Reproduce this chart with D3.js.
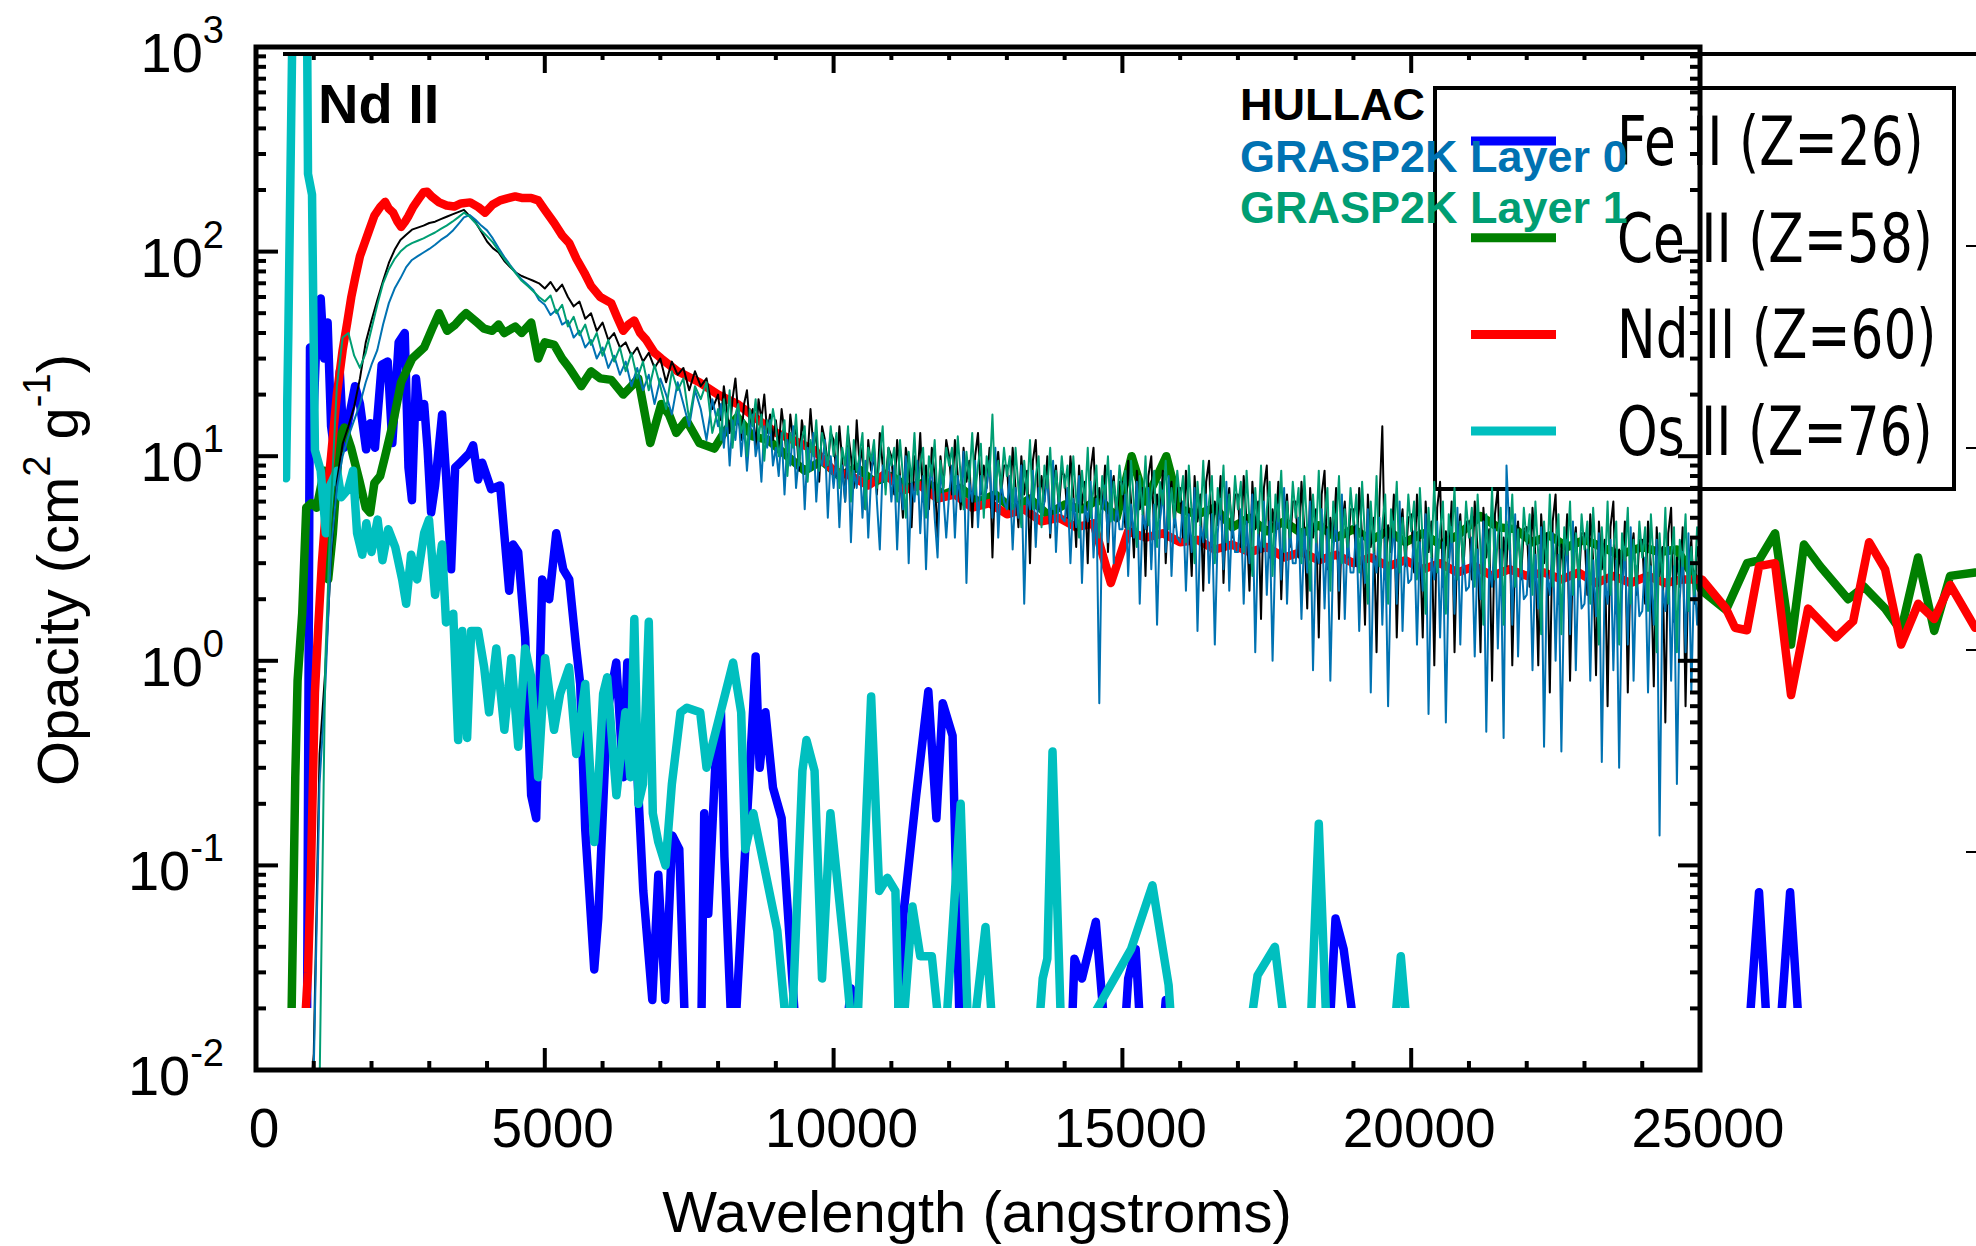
<!DOCTYPE html>
<html>
<head>
<meta charset="utf-8">
<script src="https://cdn.jsdelivr.net/npm/d3@7"></script>
<style>
  body { margin: 0; background: #fff; }
  svg { display: block; }
</style>
</head>
<body>
<svg id="chart" width="1976" height="1246"></svg>
<script>
// thin spectra (HULLAC / GRASP2K):
// part A read every 100 angstroms from 800 to 7900, part B every 50 from 8000 to 25000
const startA = 800, stepA = 100;
const startB = 8000, stepB = 50;

const hullacA = [
  0.005, 0.005, 0.012, 0.35, 0.9, 3.2, 7.5, 11.5, 14, 17.5,
  24, 36, 46, 58, 72, 88, 102, 114, 121, 128,
  131, 134, 138, 140, 144, 148, 152, 156, 160, 149,
  139, 125, 112, 104, 99, 90, 84, 79, 76, 74,
  72, 70, 66, 71, 64, 69, 60, 54, 57, 47,
  50, 41, 45, 37, 40, 34, 36, 31, 34, 29,
  32, 27, 30, 23, 29, 25, 27, 21, 26, 22,
  24, 17
];
const hullacB = [
  20, 15, 22, 17, 13, 19, 24, 16, 12, 18, 21, 14, 17, 11, 19, 15, 20, 13, 16, 12,
  15, 11, 17, 13, 9, 16, 12, 14, 8.5, 15, 12, 10, 17, 11, 13, 7.5, 14, 12, 9, 13,
  12, 8, 14, 9.5, 6, 13, 10, 7, 15, 9, 11, 5.5, 12, 8.5, 10, 6.5, 13, 9, 7.5, 11,
  10, 6.5, 12, 8, 5, 11, 9, 4.5, 10, 7.5, 13, 6, 9, 5.5, 11, 8, 4, 10, 7, 12,
  10, 6.5, 12, 8, 5.5, 11, 7.5, 9.5, 4.5, 10, 13, 6.5, 9, 7, 11, 3.2, 8.5, 10.5, 6.5, 9,
  9, 5.5, 11, 7, 4.5, 10, 6.5, 8.5, 3, 9.5, 12, 5.5, 8, 6, 10, 4, 7.5, 9, 5.5, 8.5,
  8, 5, 10, 6.5, 3.6, 9, 5.8, 7.5, 3, 8.5, 11, 4.8, 7, 5.5, 9, 3.4, 6.5, 8, 4.8, 7.5,
  7.5, 4.5, 9.5, 6, 3.2, 8.5, 5.5, 7, 2.6, 8, 10, 4.2, 6.5, 5, 8.5, 3, 6, 7.5, 4.5, 7,
  7, 4, 8.5, 5.2, 2.6, 8, 4.8, 6.5, 2.2, 7.5, 9.5, 3.6, 6, 4.6, 8, 2.4, 5.5, 7, 4, 6.5,
  6.5, 3.6, 8, 4.8, 2.2, 7.5, 4.4, 6, 1.6, 7, 9, 3.2, 5.5, 4.2, 7.5, 2, 5, 6.5, 3.6, 6,
  6, 3.2, 7.5, 4.4, 1.8, 7, 4, 5.5, 1.3, 6.5, 8.5, 2.8, 5, 3.8, 7, 1.6, 4.6, 6, 3.2, 5.5,
  5.5, 2.9, 7, 4, 1.5, 6.5, 3.6, 5, 1.1, 6, 14, 2.5, 4.6, 3.4, 6.5, 1.3, 4.2, 5.5, 2.9, 5,
  5.2, 2.7, 6.5, 3.8, 1.3, 6, 3.4, 4.8, 0.95, 5.6, 7.5, 2.3, 4.3, 3.2, 6, 1.1, 4, 5.2, 2.7, 4.8,
  4.8, 2.5, 6, 3.5, 1.1, 5.6, 3.2, 4.4, 0.8, 5.2, 7, 2.1, 4, 2.9, 5.6, 0.95, 3.6, 4.8, 2.5, 4.4,
  4.5, 2.3, 5.6, 3.3, 0.95, 5.2, 3, 4.2, 0.7, 4.8, 6.5, 1.9, 3.7, 2.7, 5.2, 0.8, 3.4, 4.5, 2.3, 4.2,
  4.2, 2.1, 5.2, 3.1, 0.85, 4.8, 2.8, 3.9, 0.6, 4.5, 6, 1.7, 3.5, 2.5, 4.8, 0.7, 3.2, 4.2, 2.1, 3.9,
  3.9, 1.9, 4.8, 2.9, 0.75, 4.5, 2.6, 3.6, 0.5, 4.2, 5.6, 1.55, 3.2, 2.3, 4.5, 0.6, 3, 3.9, 1.9, 3.6,
  3
];

const grasp0A = [
  0.005, 0.005, 0.01, 0.25, 0.75, 3.5, 7, 10, 12.5, 15,
  18, 23, 28, 33, 44, 56, 66, 74, 84, 91,
  95, 99, 103, 108, 114, 119, 126, 136, 147, 151,
  143, 134, 127, 116, 104, 94, 86, 79, 73, 69,
  65, 58, 55, 49, 52, 44, 46, 38, 41, 34,
  37, 30, 34, 27, 31, 25, 29, 22, 27, 21,
  25, 18, 24, 20, 16, 23, 18, 14, 21, 17,
  12, 19
];
const grasp0B = [
  14, 18, 11, 16, 9, 15, 12, 17, 10, 14, 8.5, 13, 16, 10, 12, 7.5, 14, 11, 15, 9,
  11, 8, 13, 6.5, 12, 9, 14, 7, 10, 12, 5.5, 11, 8.5, 13, 6, 10, 9, 12, 5, 10,
  7, 10, 4.5, 9, 6, 11, 3.8, 8.5, 7, 10, 5, 9.5, 4, 8, 11, 6, 3.5, 9, 7, 10,
  6, 9, 3.5, 8, 5.5, 10, 3, 7.5, 6, 9.5, 4.2, 8, 2.8, 7, 9, 5, 3.2, 8.5, 6.5, 4,
  6.5, 9, 4, 8, 6, 10.5, 2.4, 7.5, 6, 9.5, 4.5, 8, 5.5, 7, 9.5, 5, 11, 4, 7.5, 6,
  5.5, 8, 3.5, 7, 5, 9, 1.9, 6.5, 5.5, 8.5, 3.6, 7, 4.8, 6, 8, 4.2, 9.5, 3.4, 6.5, 5,
  4.8, 7, 3, 6.2, 4.5, 8, 2.4, 5.8, 4.8, 7.5, 3.2, 6.2, 0.62, 5.2, 7.2, 3.8, 8.5, 3, 6, 4.4,
  4.4, 6.5, 2.6, 5.8, 4, 7.5, 1.9, 5.2, 4.4, 7, 2.8, 5.8, 1.5, 4.8, 6.8, 3.4, 8, 2.6, 5.5, 4,
  3.8, 6, 2.2, 5.2, 3.4, 7, 1.4, 4.6, 3.8, 6.5, 2.4, 5.2, 1.2, 4.2, 6.2, 2.8, 7.5, 2.2, 5, 3.4,
  3.4, 5.5, 1.9, 4.8, 3, 6.5, 1.1, 4.2, 3.4, 6, 2.1, 4.8, 1, 3.8, 5.8, 2.5, 7, 1.9, 4.6, 3,
  3, 5, 1.6, 4.4, 2.7, 6, 0.9, 3.8, 3, 5.5, 1.8, 4.4, 0.8, 3.4, 5.2, 2.2, 6.5, 1.6, 4.2, 2.7,
  2.7, 4.6, 1.4, 4, 2.4, 5.5, 0.7, 3.4, 2.7, 5, 1.5, 4, 0.6, 3, 4.8, 1.9, 6, 1.4, 3.8, 2.4,
  2.5, 4.3, 1.2, 3.8, 2.2, 5.2, 0.55, 3.2, 2.5, 4.8, 1.3, 3.8, 0.5, 2.8, 4.5, 1.7, 5.6, 1.2, 3.6, 2.2,
  2.3, 4, 1.05, 3.5, 2, 4.8, 0.45, 2.9, 2.3, 4.4, 1.15, 3.5, 0.42, 9, 4.2, 1.5, 5.2, 1.05, 3.3, 2,
  2.1, 3.7, 0.9, 3.3, 1.8, 4.5, 0.38, 2.7, 2.1, 4.2, 1, 3.3, 0.36, 2.4, 3.9, 1.35, 4.8, 0.9, 3.1, 1.8,
  1.9, 3.5, 0.8, 3.1, 1.65, 4.2, 0.32, 2.5, 1.9, 3.9, 0.9, 3.1, 0.3, 2.2, 3.6, 1.2, 4.5, 0.8, 2.9, 1.65,
  1.75, 3.2, 0.7, 2.9, 1.5, 3.9, 0.14, 2.3, 1.75, 3.6, 0.8, 2.9, 0.25, 2, 3.4, 1.1, 4.2, 0.7, 2.7, 1.5,
  2.4
];

const grasp1A = [
  0.004, 0.004, 0.005, 0.008, 1, 6, 22, 38, 40, 31,
  27, 32, 42, 55, 70, 82, 92, 100, 106, 110,
  113, 116, 120, 124, 129, 134, 140, 147, 155, 148,
  138, 127, 119, 111, 101, 92, 85, 78, 72, 68,
  64, 60, 57, 61, 50, 55, 43, 48, 39, 44,
  35, 40, 31, 37, 29, 34, 26, 32, 24, 29,
  21, 28, 22, 17, 26, 21, 24, 15, 22, 19,
  23, 13
];
const grasp1B = [
  17, 12, 19, 14, 21, 11, 16, 18, 13, 15, 10, 17, 14, 19, 12, 16, 9.5, 15, 13, 17,
  14, 10, 12, 15, 8, 13, 11, 16, 9, 12, 14, 7.5, 12, 10, 15, 8.5, 13, 11, 9, 14,
  10, 13, 7, 11, 9, 14, 6, 12, 8.5, 10, 13, 5.5, 11, 9.5, 12, 7, 10, 14, 6.5, 11,
  9, 11, 6, 12, 8, 5, 10.5, 7.5, 13, 6.5, 9, 11, 5, 10, 8, 12, 6, 9.5, 7, 11,
  9, 11, 6.5, 12.5, 8, 5.5, 10.5, 7.5, 13, 6.5, 9, 11.5, 5, 10, 8, 16, 6.5, 9.5, 7, 11,
  8, 10, 5.5, 11, 7, 4.5, 9.5, 6.5, 12, 5.5, 8, 10, 4.5, 9, 7, 11, 5.5, 8.5, 6, 10,
  7, 9, 4.8, 10, 6.2, 4, 8.5, 5.8, 11, 5, 7, 9, 4, 8, 6.2, 10, 4.8, 7.5, 5.5, 9,
  6.5, 8.5, 4.4, 9.5, 5.8, 3.6, 8, 5.2, 10, 4.6, 6.5, 8.5, 3.6, 7.5, 5.8, 9.5, 4.4, 7, 5, 8.5,
  6, 8, 3.8, 9, 5.2, 3, 7.5, 4.6, 9.5, 4, 6, 8, 3, 7, 5.2, 9, 3.8, 6.5, 4.4, 8,
  5.5, 7.5, 3.4, 8.5, 4.8, 2.6, 7, 4.2, 9, 3.6, 5.5, 7.5, 2.6, 6.5, 4.8, 8.5, 3.4, 6, 4, 7.5,
  5, 7, 3, 8, 4.4, 2.2, 6.5, 3.8, 8.5, 3.2, 5, 7, 2.2, 6, 4.4, 8, 3, 5.5, 3.6, 7,
  4.6, 6.5, 2.7, 7.5, 4, 1.9, 6, 3.4, 8, 2.9, 4.6, 6.5, 1.9, 5.5, 4, 7.5, 2.7, 5, 3.2, 6.5,
  4.3, 6, 2.5, 7, 3.8, 1.7, 5.6, 3.2, 7.5, 2.7, 4.3, 6, 1.7, 5.2, 3.8, 7, 2.5, 4.8, 3, 6,
  4, 5.6, 2.3, 6.5, 3.5, 1.5, 5.2, 2.9, 7, 2.5, 4, 5.6, 1.5, 4.8, 3.5, 6.5, 2.3, 4.4, 2.7, 5.6,
  3.7, 5.2, 2.1, 6, 3.3, 1.35, 4.8, 2.7, 6.5, 2.3, 3.7, 5.2, 1.35, 4.5, 3.3, 6, 2.1, 4.2, 2.5, 5.2,
  3.5, 4.8, 1.9, 5.6, 3.1, 1.2, 4.5, 2.5, 6, 2.1, 3.5, 4.8, 1.2, 4.2, 3.1, 5.6, 1.9, 3.9, 2.3, 4.8,
  3.2, 4.5, 1.75, 5.2, 2.9, 1.1, 4.2, 2.3, 5.6, 1.9, 3.2, 4.5, 1.1, 3.9, 2.9, 5.2, 1.75, 3.6, 2.1, 4.5,
  3.4
];

// thick curves, [wavelength, opacity]
const feII = [
  [880, 0.01], [935, 34], [980, 12], [1050, 40], [1120, 59], [1180, 30], [1240, 45], [1300, 14],
  [1370, 10], [1450, 26], [1520, 11], [1600, 15], [1715, 22], [1800, 18], [1906, 10.8], [1980, 14.5],
  [2060, 11], [2176, 28], [2280, 29], [2360, 11.6], [2470, 36], [2575, 40], [2640, 8.8], [2700, 6.1],
  [2770, 24], [2840, 15.6], [2911, 18], [2971, 10.8], [3032, 5.3], [3101, 7.2], [3222, 16], [3292, 8],
  [3378, 2.8], [3448, 8.8], [3534, 9.3], [3690, 10.3], [3759, 11.3], [3846, 7.7], [3915, 9.3], [4071, 6.9],
  [4227, 7.2], [4383, 2.2], [4452, 3.7], [4539, 3.4], [4660, 1.3], [4764, 0.22], [4851, 0.17], [4955, 2.5],
  [5076, 2.0], [5198, 4.2], [5319, 2.8], [5423, 2.5], [5544, 1.15], [5613, 0.77], [5700, 0.15], [5769, 0.075],
  [5856, 0.031], [5925, 0.055], [6081, 0.56], [6237, 0.98], [6358, 0.27], [6428, 0.98], [6549, 0.56], [6705, 0.075],
  [6861, 0.022], [6965, 0.09], [7086, 0.022], [7207, 0.14], [7328, 0.12], [7450, 0.01], [7700, 0.01], [7760, 0.18],
  [7830, 0.058], [7950, 0.3], [8050, 0.56], [8110, 0.11], [8260, 0.01], [8470, 0.12], [8610, 0.6], [8650, 1.05],
  [8720, 0.3], [8820, 0.56], [8950, 0.24], [9100, 0.17], [9390, 0.01], [10150, 0.01], [10300, 0.025], [10520, 0.01],
  [11070, 0.01], [11210, 0.058], [11430, 0.22], [11640, 0.71], [11780, 0.17], [11890, 0.62], [12060, 0.43], [12200, 0.01],
  [14100, 0.01], [14170, 0.035], [14300, 0.028], [14540, 0.053], [14750, 0.01], [15000, 0.01], [15100, 0.028], [15230, 0.039],
  [15350, 0.01], [15660, 0.01], [15750, 0.022], [15800, 0.01], [18550, 0.01], [18690, 0.055], [18830, 0.039], [19110, 0.01],
  [25800, 0.01], [26022, 0.074], [26200, 0.01], [26340, 0.01], [26560, 0.074], [26760, 0.01], [29800, 0.01]
];

const ceII = [
  [600, 0.01], [640, 0.05], [680, 0.27], [720, 0.8], [800, 1.7], [870, 5.6], [960, 5.9], [1050, 5.6],
  [1180, 8.5], [1250, 2.5], [1330, 4.2], [1450, 12.4], [1530, 13.8], [1646, 11], [1790, 7.6], [1900, 5.6],
  [1975, 5.3], [2050, 7.4], [2150, 8], [2235, 10], [2374, 14.6], [2512, 23], [2703, 30], [2911, 34],
  [3050, 42], [3170, 50], [3309, 41], [3450, 44], [3569, 48], [3638, 50], [3829, 45], [3950, 42],
  [4089, 41], [4200, 44], [4297, 40], [4487, 43], [4600, 40], [4764, 45], [4886, 30], [5000, 36],
  [5163, 35], [5300, 30], [5423, 27], [5631, 22], [5800, 26], [5960, 24], [6150, 23.6], [6358, 20],
  [6500, 22], [6618, 24], [6826, 11.6], [7017, 18], [7150, 16], [7277, 13], [7450, 15], [7675, 11.6],
  [7935, 10.9], [8100, 13], [8333, 15.5], [8600, 12.5], [8870, 12], [9200, 10], [9500, 8.5], [9800, 9.5],
  [10100, 8], [10400, 8.8], [10700, 7.5], [11000, 8], [11300, 7], [11600, 7.5], [11900, 6.5], [12200, 7],
  [12500, 6], [12800, 6.5], [13100, 5.5], [13400, 6.2], [13700, 5.2], [14000, 5.8], [14300, 5.5], [14600, 6.2],
  [14900, 5.0], [15160, 10], [15400, 6], [15760, 10], [16000, 5.5], [16300, 5.2], [16600, 5.6], [16900, 4.5],
  [17200, 5.0], [17500, 4.3], [17800, 4.8], [18100, 4.2], [18400, 4.6], [18700, 4.0], [19000, 4.4], [19300, 3.9],
  [19600, 4.3], [19900, 3.8], [20200, 4.2], [20500, 3.7], [20800, 4.1], [21200, 5.1], [21500, 4.5], [21800, 4.4],
  [22100, 3.8], [22400, 4.1], [22700, 3.6], [23000, 3.9], [23200, 3.7], [23600, 3.3], [24000, 3.6], [24300, 3.4],
  [24600, 3.5], [25035, 2.2], [25450, 1.77], [25815, 3.0], [26020, 3.1], [26300, 4.2], [26575, 1.2], [26800, 3.7],
  [27080, 2.9], [27565, 2.0], [27840, 2.3], [28205, 1.8], [28480, 1.4], [28775, 3.2], [29055, 1.4], [29330, 2.6],
  [29765, 2.7]
];

const ndII = [
  [800, 0.01], [900, 0.03], [950, 0.09], [1020, 0.7], [1080, 1.5], [1140, 3], [1220, 6], [1300, 10],
  [1400, 20], [1500, 33], [1580, 45], [1650, 60], [1720, 75], [1800, 95], [1880, 110], [1950, 125],
  [2050, 150], [2150, 165], [2235, 175], [2300, 162], [2374, 155], [2450, 140], [2512, 132], [2580, 140],
  [2633, 148], [2720, 165], [2841, 185], [2900, 195], [2963, 196], [3050, 185], [3170, 174], [3300, 168],
  [3430, 166], [3550, 172], [3708, 174], [3850, 165], [3967, 155], [4100, 170], [4227, 178], [4350, 182],
  [4487, 186], [4600, 183], [4764, 183], [4886, 178], [5000, 160], [5163, 138], [5300, 120], [5423, 110],
  [5550, 92], [5683, 79], [5800, 68], [5960, 60], [6150, 56], [6250, 48], [6358, 41], [6450, 44],
  [6549, 46], [6650, 40], [6757, 37], [6900, 32], [7017, 30], [7300, 26], [7675, 23], [8000, 20],
  [8333, 18], [8700, 15], [9009, 13], [9300, 12], [9667, 10.7], [9997, 8.5], [10300, 8], [10600, 7.2],
  [10900, 8.2], [11200, 6.8], [11500, 7.2], [11800, 6.2], [12100, 6.5], [12400, 5.6], [12700, 5.9], [13000, 5.2],
  [13300, 5.5], [13600, 4.8], [13900, 5.0], [14200, 4.5], [14500, 4.7], [14800, 2.4], [15100, 4.3], [15400, 4.0],
  [15700, 4.2], [16000, 3.8], [16300, 3.9], [16600, 3.5], [16900, 3.7], [17200, 3.4], [17500, 3.6], [17800, 3.2],
  [18100, 3.4], [18400, 3.1], [18700, 3.3], [19000, 3.0], [19300, 3.2], [19600, 2.9], [19900, 3.1], [20200, 2.8],
  [20500, 3.0], [20800, 2.7], [21100, 2.9], [21400, 2.6], [21700, 2.8], [22000, 2.6], [22300, 2.7], [22600, 2.5],
  [22900, 2.7], [23200, 2.4], [23500, 2.6], [23800, 2.4], [24100, 2.6], [24400, 2.4], [24700, 2.5], [25035, 2.5],
  [25450, 1.8], [25607, 1.45], [25814, 1.41], [26022, 2.9], [26299, 3.0], [26576, 0.68], [26871, 1.8], [27356, 1.3],
  [27651, 1.56], [27928, 3.8], [28205, 2.8], [28482, 1.2], [28777, 1.9], [29054, 1.6], [29331, 2.35], [29764, 1.45]
];

const osII = [
  [520, 7.8], [560, 40], [640, 2000], [880, 2000], [900, 240], [970, 190], [1020, 10.7], [1120, 8.5],
  [1210, 4.2], [1285, 7.2], [1405, 8.5], [1475, 6.3], [1595, 6.9], [1680, 8.5], [1750, 4.2], [1840, 3.3],
  [1910, 4.7], [2000, 3.4], [2105, 4.9], [2190, 3.1], [2290, 4.4], [2410, 3.6], [2530, 2.5], [2600, 1.9],
  [2685, 3.3], [2790, 2.5], [2910, 4.2], [2995, 4.9], [3100, 2.1], [3220, 3.7], [3290, 1.54], [3415, 1.7],
  [3500, 0.41], [3570, 1.4], [3655, 0.42], [3725, 1.4], [3845, 1.4], [3950, 0.93], [4035, 0.56], [4160, 1.15],
  [4300, 0.46], [4420, 1.03], [4540, 0.38], [4660, 1.15], [4765, 0.83], [4885, 0.27], [5005, 1.03], [5160, 0.46],
  [5265, 0.69], [5420, 0.93], [5545, 0.35], [5700, 0.77], [5855, 0.13], [5925, 0.25], [6010, 0.69], [6080, 0.83],
  [6240, 0.22], [6395, 0.56], [6480, 0.27], [6550, 1.6], [6620, 0.2], [6700, 0.25], [6800, 1.55], [6870, 0.18],
  [6965, 0.13], [7090, 0.1], [7200, 0.25], [7350, 0.56], [7460, 0.59], [7690, 0.56], [7800, 0.3], [8260, 0.98],
  [8400, 0.56], [8470, 0.12], [8610, 0.18], [9025, 0.048], [9250, 0.01], [9460, 0.29], [9530, 0.41], [9670, 0.29],
  [9800, 0.028], [9945, 0.18], [10220, 0.031], [10380, 0.01], [10650, 0.67], [10790, 0.075], [10930, 0.087], [11070, 0.075],
  [11150, 0.01], [11365, 0.063], [11500, 0.036], [11700, 0.036], [11900, 0.01], [12200, 0.2], [12350, 0.01], [12630, 0.05],
  [12800, 0.01], [13500, 0.01], [13620, 0.028], [13700, 0.035], [13790, 0.36], [13960, 0.01], [15150, 0.039], [15520, 0.08],
  [15800, 0.026], [15900, 0.01], [17200, 0.015], [17340, 0.029], [17640, 0.04], [17900, 0.01], [18230, 0.01], [18400, 0.16],
  [18560, 0.01], [19650, 0.01], [19820, 0.036], [19990, 0.01]
];

const ionNames = ["Fe II (Z=26)", "Ce II (Z=58)", "Nd II (Z=60)", "Os II (Z=76)"];
const ionColors = ["#0000ff", "#008000", "#ff0000", "#00bfbf"];
const codeNames = ["HULLAC", "GRASP2K Layer 0", "GRASP2K Layer 1"];
const codeColors = ["#000000", "#0072b2", "#009e73"];
const xTickValues = [0, 5000, 10000, 15000, 20000, 25000];
const yExponents = [3, 2, 1, 0, -1, -2];

const width = 1976;
const height = 1246;
const plot = { left: 256, right: 1700, top: 47, bottom: 1070 };

const svg = d3.select("#chart");

const x = d3.scaleLinear().domain([0, 25000]).range([plot.left, plot.right]);
const y = d3.scaleLog().domain([1e-2, 1e3]).range([plot.bottom, plot.top]);
// the overlaid wide panel sits a few pixels higher
const yB = d3.scaleLog().domain([1e-2, 1e3]).range([1054, 44]);

const line = d3.line()
  .x(d => x(d[0]))
  .y(d => y(d[1]));

const toPoints = (a, b) =>
  a.map((v, i) => [startA + i * stepA, v]).concat(b.map((v, i) => [startB + i * stepB, v]));

const thinSeries = [
  toPoints(hullacA, hullacB),
  toPoints(grasp0A, grasp0B),
  toPoints(grasp1A, grasp1B)
];

const defs = svg.append("defs");
defs.append("clipPath").attr("id", "clipB")
  .append("rect")
  .attr("x", 283).attr("y", 54)
  .attr("width", width - 283).attr("height", 1008 - 54);
defs.append("clipPath").attr("id", "clipA")
  .append("rect")
  .attr("x", plot.left).attr("y", plot.top)
  .attr("width", plot.right - plot.left).attr("height", plot.bottom - plot.top);

// ---- wide panel behind (ion curves + legend)
const back = svg.append("g");

back.append("g")
  .attr("clip-path", "url(#clipB)")
  .selectAll("path")
  .data([feII, ceII, ndII, osII])
  .enter()
  .append("path")
  .attr("d", line)
  .attr("fill", "none")
  .attr("stroke", (d, i) => ionColors[i])
  .attr("stroke-width", 8.5)
  .attr("stroke-linejoin", "round")
  .attr("stroke-linecap", "round");

back.append("line")
  .attr("x1", 283).attr("x2", width)
  .attr("y1", 54).attr("y2", 54)
  .attr("stroke", "#000").attr("stroke-width", 4);

back.selectAll(".rtick")
  .data([2, 1, 0, -1])
  .enter()
  .append("line")
  .attr("x1", width - 10).attr("x2", width)
  .attr("y1", e => yB(Math.pow(10, e)))
  .attr("y2", e => yB(Math.pow(10, e)))
  .attr("stroke", "#000").attr("stroke-width", 2);

back.append("rect")
  .attr("x", 1435).attr("y", 88)
  .attr("width", 519).attr("height", 401)
  .attr("fill", "none")
  .attr("stroke", "#000").attr("stroke-width", 4);

const legendRows = back.selectAll(".leg")
  .data(ionNames)
  .enter()
  .append("g")
  .attr("transform", (d, i) => "translate(0," + (141 + i * 96.7) + ")");

legendRows.append("line")
  .attr("x1", 1471).attr("x2", 1556)
  .attr("y1", 0).attr("y2", 0)
  .attr("stroke", (d, i) => ionColors[i])
  .attr("stroke-width", 9);

legendRows.append("text")
  .attr("transform", "translate(1617,24) scale(0.76,1)")
  .attr("font-family", "DejaVu Sans")
  .attr("font-size", 68)
  .attr("fill", "#000")
  .text(d => d);

// ---- main panel on top
const front = svg.append("g");

front.append("g")
  .attr("clip-path", "url(#clipA)")
  .selectAll("path")
  .data(thinSeries)
  .enter()
  .append("path")
  .attr("d", line)
  .attr("fill", "none")
  .attr("stroke", (d, i) => codeColors[i])
  .attr("stroke-width", 2)
  .attr("stroke-linejoin", "round");

// frame
front.append("rect")
  .attr("x", plot.left).attr("y", plot.top)
  .attr("width", plot.right - plot.left).attr("height", plot.bottom - plot.top)
  .attr("fill", "none")
  .attr("stroke", "#000").attr("stroke-width", 5);

// x ticks, bottom (up) and top (hanging from the wide panel's edge)
const xMinor = d3.range(0, 25001, 1000);
front.selectAll(".xb")
  .data(xMinor)
  .enter()
  .append("line")
  .attr("x1", d => x(d)).attr("x2", d => x(d))
  .attr("y1", plot.bottom)
  .attr("y2", d => plot.bottom - (d % 5000 === 0 ? 22 : 9))
  .attr("stroke", "#000").attr("stroke-width", 4);
front.selectAll(".xt")
  .data(xMinor.filter(d => d > 0 && d < 25000))
  .enter()
  .append("line")
  .attr("x1", d => x(d)).attr("x2", d => x(d))
  .attr("y1", 54)
  .attr("y2", d => 54 + (d % 5000 === 0 ? 19 : 6))
  .attr("stroke", "#000").attr("stroke-width", 4);

// y ticks, both sides, pointing in
const yTicks = [];
for (let e = -2; e < 3; e++) {
  for (let m = 1; m < 10; m++) yTicks.push({ v: m * Math.pow(10, e), major: m === 1 });
}
yTicks.push({ v: 1000, major: true });

front.selectAll(".yl")
  .data(yTicks)
  .enter()
  .append("line")
  .attr("x1", plot.left)
  .attr("x2", d => plot.left + (d.major ? 22 : 10))
  .attr("y1", d => y(d.v)).attr("y2", d => y(d.v))
  .attr("stroke", "#000").attr("stroke-width", 4);
front.selectAll(".yr")
  .data(yTicks)
  .enter()
  .append("line")
  .attr("x1", plot.right)
  .attr("x2", d => plot.right - (d.major ? 22 : 10))
  .attr("y1", d => y(d.v)).attr("y2", d => y(d.v))
  .attr("stroke", "#000").attr("stroke-width", 4);

// tick labels
front.selectAll(".xlab")
  .data(xTickValues)
  .enter()
  .append("text")
  .attr("x", d => x(d) + 8)
  .attr("y", 1147)
  .attr("text-anchor", "middle")
  .attr("font-family", "Liberation Sans, Arial, sans-serif")
  .attr("font-size", 55)
  .text(d => d);

const ylab = front.selectAll(".ylab")
  .data(yExponents)
  .enter()
  .append("text")
  .attr("x", 224)
  .attr("y", e => y(Math.pow(10, e)) + 25)
  .attr("text-anchor", "end")
  .attr("font-family", "Liberation Sans, Arial, sans-serif")
  .attr("font-size", 56);
ylab.append("tspan").text("10");
ylab.append("tspan")
  .attr("dy", -29)
  .attr("font-size", 38)
  .text(e => e);

// axis titles
front.append("text")
  .attr("x", 977).attr("y", 1232)
  .attr("text-anchor", "middle")
  .attr("font-family", "Liberation Sans, Arial, sans-serif")
  .attr("font-size", 58)
  .text("Wavelength (angstroms)");

const ytitle = front.append("text")
  .attr("transform", "translate(78,570) rotate(-90)")
  .attr("text-anchor", "middle")
  .attr("font-family", "Liberation Sans, Arial, sans-serif")
  .attr("font-size", 58);
ytitle.append("tspan").text("Opacity (cm");
ytitle.append("tspan").attr("dy", -28).attr("font-size", 38).text("2");
ytitle.append("tspan").attr("dy", 28).text(" g");
ytitle.append("tspan").attr("dy", -28).attr("font-size", 38).text("-1");
ytitle.append("tspan").attr("dy", 28).text(")");

// ion label and code names
front.append("text")
  .attr("x", 318).attr("y", 123)
  .attr("font-family", "Liberation Sans, Arial, sans-serif")
  .attr("font-weight", "bold")
  .attr("font-size", 56)
  .text("Nd II");

front.selectAll(".code")
  .data(codeNames)
  .enter()
  .append("text")
  .attr("x", 1240)
  .attr("y", (d, i) => 120 + i * 51.5)
  .attr("font-family", "Liberation Sans, Arial, sans-serif")
  .attr("font-weight", "bold")
  .attr("font-size", 45)
  .attr("fill", (d, i) => codeColors[i])
  .text(d => d);
</script>
</body>
</html>
